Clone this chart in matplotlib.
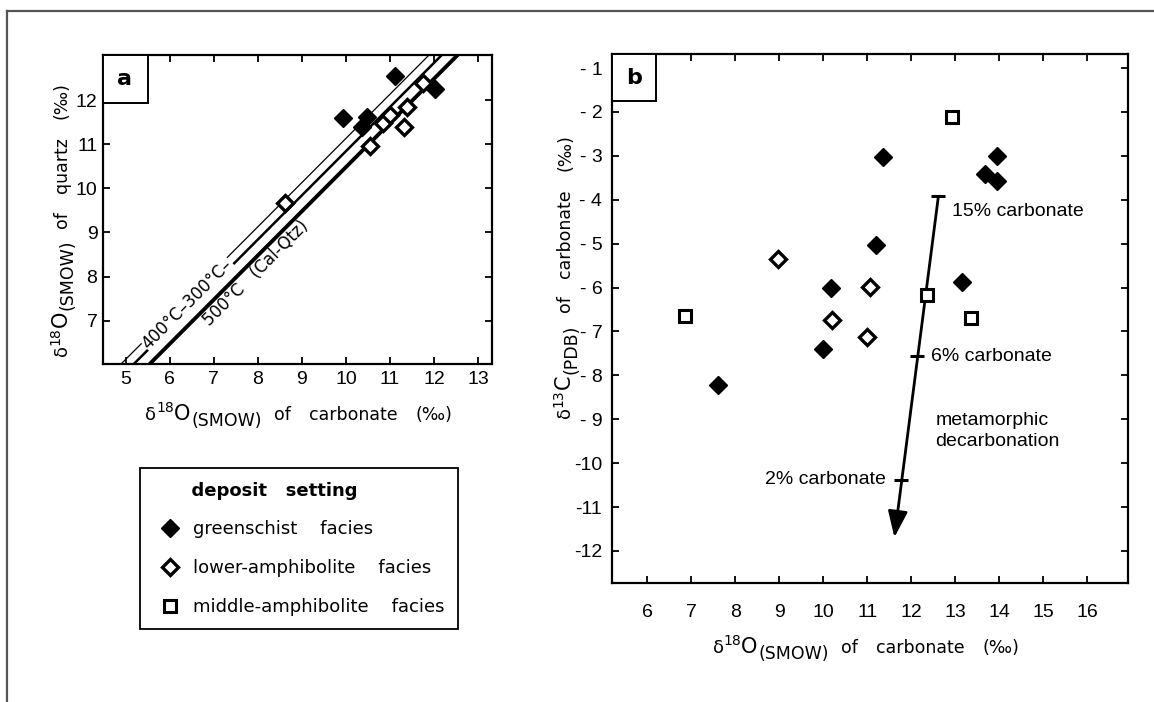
"""
Oxygen / carbon isotope plots of vein carbonate and quartz
a: d18O quartz vs d18O carbonate, b: d13C vs d18O of carbonate
"""

import matplotlib.pyplot as plt
from matplotlib.lines import Line2D
from matplotlib.patches import Rectangle
from matplotlib.transforms import IdentityTransform

plt.rcParams['font.family'] = ['DejaVu Sans']
plt.rcParams['mathtext.fontset'] = 'dejavusans'

# panel a data
a_green_x = [9.93, 11.12, 10.48, 10.37, 12.03]
a_green_y = [11.59, 12.54, 11.61, 11.39, 12.25]
a_lower_x = [8.62, 10.55, 10.84, 11.00, 11.39, 11.32, 11.75]
a_lower_y = [9.66, 10.96, 11.48, 11.66, 11.84, 11.39, 12.38]

# quartz-calcite isotherms: d18O(qtz) = d18O(cal) + offset
iso_temps = ['300°C', '400°C', '500°C']
iso_offsets = [1.13, 0.84, 0.48]

# panel b data
b_green_x = [11.35, 13.95, 13.67, 13.95, 11.21, 10.18, 13.16, 9.99, 7.60]
b_green_y = [-3.02, -3.00, -3.41, -3.58, -5.04, -6.01, -5.88, -7.39, -8.21]
b_lower_x = [8.97, 11.06, 10.21, 11.00]
b_lower_y = [-5.34, -5.98, -6.74, -7.13]
b_middle_x = [12.92, 6.85, 12.36, 13.36]
b_middle_y = [-2.12, -6.65, -6.18, -6.69]

# metamorphic decarbonation trend
trend_x = [12.62, 11.62]
trend_y = [-3.92, -11.69]
mark_x = [12.62, 12.14, 11.78]
mark_y = [-3.92, -7.57, -10.38]
mark_labels = ['15% carbonate', '6% carbonate', '2% carbonate']

a_xticks = list(range(5, 14))
a_yticks = list(range(7, 13))
b_xticks = list(range(6, 17))
b_yticks = list(range(-1, -13, -1))
b_yticklabels = ['- 1', '- 2', '- 3', '- 4', '- 5', '- 6', '- 7', '- 8', '- 9', '-10', '-11', '-12']

legend_title = 'deposit   setting'
legend_labels = ['greenschist    facies', 'lower-amphibolite    facies', 'middle-amphibolite    facies']

W, H = 1154, 702
fig = plt.figure(figsize=(W / 100, H / 100), dpi=100)


def px_axes(left, top, right, bottom):
    return fig.add_axes([left / W, 1 - bottom / H, (right - left) / W, (bottom - top) / H])


def rich_label(pieces, cx, cy, vertical=False):
    """pieces: (text, size, baseline shift px, gap px); cx/cy in image px (top-left origin).
    horizontal: cx = centre, cy = baseline; vertical: cx = baseline, cy = centre"""
    renderer = fig.canvas.get_renderer()
    items = []
    for s, size, shift, gap in pieces:
        t = fig.text(0, 0, s, fontsize=size, ha='left', va='baseline',
                     transform=IdentityTransform(), rotation_mode='anchor')
        w = t.get_window_extent(renderer).width
        items.append((t, w, shift, gap))
    total = sum(w + g for _, w, _, g in items) - items[-1][3]
    pos = -total / 2
    for t, w, shift, gap in items:
        if vertical:
            t.set_rotation(90)
            t.set_position((cx - shift, (H - cy) + pos))
        else:
            t.set_position((cx + pos, (H - cy) + shift))
        pos += w + gap


def iso_pieces(delta_num, elem, std, rest):
    out = [('δ', 13, 0, 0), (delta_num, 10, 8, 0), (elem, 15, 0, 1), (std, 12.5, -6, 12)]
    for word in rest:
        out.append((word, 12.5, 0, 18))
    return out


tick_font = dict(family=['Liberation Sans', 'DejaVu Sans'], size=14)

green_style = dict(marker='D', ms=9, color='black', ls='none')
lower_style = dict(marker='D', ms=8, mfc='white', mec='black', mew=2.4, ls='none')
middle_style = dict(marker='s', ms=8, mfc='white', mec='black', mew=2.2, ls='none')


def style_axes(ax):
    for s in ax.spines.values():
        s.set_linewidth(1.6)
    ax.tick_params(direction='in', top=True, right=True, left=True, bottom=True,
                   length=5, width=1.3)


# ---------------- panel a ----------------
ax1 = px_axes(103, 55, 492, 364)
ax1.set_xlim(4.48, 13.32)
ax1.set_ylim(6.02, 13.02)
style_axes(ax1)
ax1.set_xticks(a_xticks)
ax1.set_xticklabels([str(t) for t in a_xticks], fontdict=tick_font)
ax1.set_yticks(a_yticks)
ax1.set_yticklabels([str(t) for t in a_yticks], fontdict=tick_font)
ax1.tick_params(axis='x', pad=5)
ax1.tick_params(axis='y', pad=4)

# isotherms
x0, x1 = ax1.get_xlim()
iso_lw = [0.9, 1.8, 2.8]
for off, lw in zip(iso_offsets, iso_lw):
    ax1.plot([x0, x1], [x0 + off, x1 + off], color='black', lw=lw, zorder=2)

ax1.text(6.4, 6.4 + (iso_offsets[0] + iso_offsets[1]) / 2,
         f'{iso_temps[1]}–{iso_temps[0]}–', rotation=45, rotation_mode='anchor',
         ha='center', va='center', fontsize=12, zorder=3,
         bbox=dict(facecolor='white', edgecolor='none', pad=0.5))
ax1.text(7.95, 7.95 + 0.12, f'{iso_temps[2]}   (Cal-Qtz)', rotation=45,
         rotation_mode='anchor', ha='center', va='center', fontsize=12, zorder=3)

ax1.plot(a_green_x, a_green_y, zorder=4, **green_style)
ax1.plot(a_lower_x, a_lower_y, zorder=4, **lower_style)

ax1.add_patch(Rectangle((0, 1 - 48 / 309), 45 / 389, 48 / 309, transform=ax1.transAxes,
                        facecolor='white', edgecolor='black', lw=1.4, zorder=5))
ax1.text(22 / 389, 1 - 24 / 309, 'a', transform=ax1.transAxes, ha='center', va='center',
         fontsize=16, fontweight='bold', zorder=6)

rich_label(iso_pieces('18', 'O', '(SMOW)', ['of', 'carbonate', '(‰)']), 299, 420)
rich_label(iso_pieces('18', 'O', '(SMOW)', ['of', 'quartz', '(‰)']), 67, 219, vertical=True)

# ---------------- panel b ----------------
ax2 = px_axes(612, 54, 1128, 583)
ax2.set_xlim(5.2, 16.93)
ax2.set_ylim(-12.73, -0.68)
style_axes(ax2)
ax2.set_xticks(b_xticks)
ax2.set_xticklabels([str(t) for t in b_xticks], fontdict=tick_font)
ax2.set_yticks(b_yticks)
ax2.set_yticklabels(b_yticklabels, fontdict=tick_font)
ax2.tick_params(axis='x', pad=15)
ax2.tick_params(axis='y', pad=7)

h_green, = ax2.plot(b_green_x, b_green_y, zorder=4, **green_style)
h_lower, = ax2.plot(b_lower_x, b_lower_y, zorder=4, **lower_style)
h_middle, = ax2.plot(b_middle_x, b_middle_y, zorder=4, **middle_style)

# decarbonation arrow
ax2.annotate('', xy=(trend_x[1], trend_y[1]), xytext=(trend_x[0], trend_y[0]),
             arrowprops=dict(arrowstyle='-|>,head_length=0.8,head_width=0.3',
                             mutation_scale=20, lw=2.0, color='black',
                             shrinkA=0, shrinkB=0), zorder=3)
ax2.plot(mark_x, mark_y, marker='_', ms=10, mew=2.2, color='black', ls='none', zorder=3)
label_offsets = [(10, -11), (10, 0), (-11, 0)]
label_ha = ['left', 'left', 'right']
for mx, my, lab, off, ha in zip(mark_x, mark_y, mark_labels, label_offsets, label_ha):
    ax2.annotate(lab, (mx, my), xytext=off, textcoords='offset points',
                 ha=ha, va='center', fontsize=14, family=['Liberation Sans', 'DejaVu Sans'])
ax2.text(12.55, -9.27, 'metamorphic\ndecarbonation', ha='left', va='center',
         fontsize=14, family=['Liberation Sans', 'DejaVu Sans'], linespacing=1.3)

ax2.add_patch(Rectangle((0, 1 - 47 / 529), 44 / 516, 47 / 529, transform=ax2.transAxes,
                        facecolor='white', edgecolor='black', lw=1.4, zorder=5))
ax2.text(22 / 516, 1 - 24 / 529, 'b', transform=ax2.transAxes, ha='center', va='center',
         fontsize=16, fontweight='bold', zorder=6)

rich_label(iso_pieces('18', 'O', '(SMOW)', ['of', 'carbonate', '(‰)']), 866, 653)
rich_label(iso_pieces('13', 'C', '(PDB)', ['of', 'carbonate', '(‰)']), 570, 276, vertical=True)

# ---------------- legend ----------------
leg = fig.legend([h_green, h_lower, h_middle], legend_labels, loc='upper left',
                 bbox_to_anchor=(140 / W, 1 - 468 / H), borderaxespad=0,
                 title='      ' + legend_title, alignment='left',
                 title_fontproperties={'weight': 'bold', 'size': 13}, fontsize=13,
                 frameon=True, fancybox=False, edgecolor='black', framealpha=1,
                 borderpad=0.75, labelspacing=1.15, handletextpad=0.4, handlelength=1.8)
leg.get_frame().set_linewidth(1.3)

# page frame
fig.add_artist(Line2D([7 / W, 1], [1 - 11 / H, 1 - 11 / H], transform=fig.transFigure,
                      color='#555555', lw=1.6))
fig.add_artist(Line2D([7 / W, 7 / W], [0, 1 - 11 / H], transform=fig.transFigure,
                      color='#555555', lw=1.6))

fig.savefig('out.png', dpi=100)
